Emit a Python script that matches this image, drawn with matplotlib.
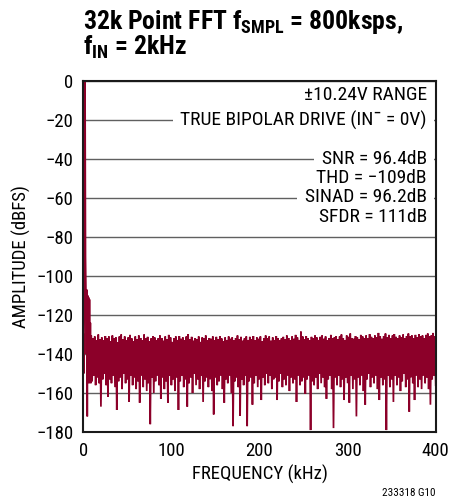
import numpy as np
import matplotlib
matplotlib.use("Agg")
import matplotlib.pyplot as plt
from matplotlib import font_manager as fm

_installed = {f.name for f in fm.fontManager.ttflist}
FONT = next((n for n in ['Roboto Condensed', 'Archivo Narrow', 'Barlow Semi Condensed',
                         'Liberation Sans'] if n in _installed), 'DejaVu Sans')
plt.rcParams['font.family'] = [FONT, 'DejaVu Sans']
plt.rcParams['mathtext.fontset'] = 'custom'
plt.rcParams['mathtext.rm'] = FONT
plt.rcParams['mathtext.bf'] = FONT + ':bold'
plt.rcParams['mathtext.it'] = FONT + ':italic'

# ---------------- data ----------------
title_line1 = r'32k Point FFT f$_\mathbf{SMPL}$ = 800ksps,'
title_line2 = r'f$_\mathbf{IN}$ = 2kHz'
x_label = 'FREQUENCY (kHz)'
y_label = 'AMPLITUDE (dBFS)'
x_ticks = [0, 100, 200, 300, 400]
y_ticks = [0, -20, -40, -60, -80, -100, -120, -140, -160, -180]
annotations = ['\u00b110.24V RANGE', 'TRUE BIPOLAR DRIVE (IN\u00af = 0V)',
               'SNR = 96.4dB', 'THD = \u2212109dB', 'SINAD = 96.2dB', 'SFDR = 111dB']
footnote = '233318 G10'

# fundamental and its skirt near DC (kHz, dBFS)
skirt_freq = [0, 0.5, 1, 1.5, 2, 2.5, 3, 3.5, 4, 4.5, 5, 5.5, 6, 6.5, 7, 7.5, 8, 8.5]
skirt_db = [-130, -150, -120, -90, 0, -90, -108, -140, -107, -172, -110, -150,
            -111, -155, -112, -150, -124, -155]

# noise floor: upper excursions at 9, 11, ..., 399 kHz
noise_top_db = [
    -130.5, -132, -131, -133, -130, -132.5, -131.5, -133, -130.8, -132,
    -131, -133.5, -130.5, -132, -131.5, -134, -131, -130, -132.5, -131,
    -133, -131.5, -130.2, -132, -133.5, -131, -132.5, -130.5, -131.8, -133,
    -130, -132, -131.2, -133.5, -132, -130.8, -131.5, -133, -132, -130.5,
    -131.8, -133.2, -131, -132.5, -130.2, -131.5, -133.8, -132, -131, -132.8,
    -130.8, -132.2, -131.5, -133, -131, -129.8, -132.5, -131.2, -133.2, -131.8,
    -132.5, -131, -133.8, -131.5, -132, -130.5, -133, -131.8, -132.2, -131,
    -133, -131.2, -132.5, -130.8, -132, -133.5, -131.5, -132.8, -131, -132.2,
    -131.5, -133, -131.8, -130.5, -132.5, -131.2, -133.2, -132, -131, -132.8,
    -131.2, -132.5, -130.8, -133, -131.5, -132.2, -131, -133.5, -131.8, -130.5,
    -132, -131, -133.2, -131.5, -132.8, -130.8, -131.8, -133, -132, -131.2,
    -132.5, -130.5, -131.8, -133, -131, -132.2, -130.2, -131.5, -132.8, -128.5,
    -131, -132.5, -130.8, -131.8, -133, -131.2, -132, -130.5, -131.5, -132.8,
    -131.2, -130.5, -132.2, -131, -133, -131.8, -130.2, -132, -131.5, -130.8,
    -132.5, -131, -130, -131.8, -132.8, -130.5, -131.2, -129.5, -131.8, -132.2,
    -130.8, -131.5, -132.5, -130.2, -131, -132, -130.5, -131.8, -129.8, -131.2,
    -132, -130.5, -131.5, -129.2, -131, -132.2, -130.8, -129.5, -131.5, -130.2,
    -131.8, -130.5, -129.8, -131.2, -132, -130.5, -131.5, -130, -131.8, -130.8,
    -129.5, -131, -130.5, -132, -130.2, -131.5, -129.8, -131, -130.5, -131.8,
    -130.2, -129.5, -131, -130.5, -129.2, -130.8,
]

# noise floor: lower excursions at 10, 12, ..., 400 kHz
noise_bottom_db = [
    -154, -151, -156, -152, -155, -167, -153, -150, -156, -162,
    -153, -155, -151, -157, -168.7, -154, -152, -158, -150, -155,
    -153, -164.6, -151, -156, -152, -158, -154, -165, -151, -157,
    -153, -159, -155, -176, -152, -160, -154, -151, -156, -163,
    -152, -158, -154, -165, -151, -156, -153, -159, -152, -168.7,
    -154, -151, -157, -153, -167, -155, -152, -160, -150, -156,
    -153, -158, -151, -164.6, -154, -152, -157, -153, -159, -171,
    -152, -156, -154, -151, -158, -165, -153, -155, -151, -160,
    -177, -154, -152, -157, -171.7, -153, -156, -151, -177, -154,
    -152, -166, -155, -151, -157, -153, -163.6, -152, -156, -150,
    -155, -151, -158, -153, -152, -163.6, -154, -150, -157, -153,
    -156, -151, -159, -152, -155, -153, -164.6, -151, -156, -154,
    -152, -160.5, -153, -151, -179, -154, -156, -152, -158, -150,
    -155, -152, -157, -163, -153, -151, -158, -178, -152, -156,
    -151, -157, -153, -163.6, -152, -155, -165, -151, -158, -153,
    -172, -152, -156, -151, -159, -166, -153, -150, -157, -152,
    -155, -151, -158, -163.6, -152, -156, -153, -179, -151, -157,
    -153, -164.6, -151, -156, -152, -159, -154, -150, -157, -153,
    -169.6, -152, -155, -163.6, -151, -157, -153, -158, -151, -155,
    -152, -158, -166, -153, -151, -156,
]

# ---------------- assemble spectrum ----------------
top_f = 9 + 2 * np.arange(len(noise_top_db))
bot_f = 10 + 2 * np.arange(len(noise_bottom_db))
nf = np.empty(len(top_f) + len(bot_f))
nv = np.empty_like(nf)
nf[0::2] = top_f
nf[1::2] = bot_f
nv[0::2] = noise_top_db
nv[1::2] = noise_bottom_db
freq = np.concatenate([skirt_freq, nf])
amp = np.concatenate([skirt_db, nv])

RED = '#8c0029'
GRID = '#606060'

fig = plt.figure(figsize=(4.49, 5.04), dpi=100)
ax = fig.add_axes([83.3 / 449, 72 / 504, 352.4 / 449, 351 / 504])

ax.set_xlim(0, 400)
ax.set_ylim(-180, 0)

for yv in y_ticks:
    ax.axhline(yv, color=GRID, lw=1.0, zorder=1)

ax.plot(freq, amp, color=RED, lw=1.25, zorder=2, solid_joinstyle='miter')

ax.set_xticks(x_ticks)
ax.set_yticks(y_ticks)
ax.tick_params(length=0, labelsize=13.5, colors='black')
ax.tick_params(axis='y', pad=7)
ax.tick_params(axis='x', pad=7)
for s in ax.spines.values():
    s.set_linewidth(1.5)
    s.set_color('#1a1a1a')
    s.set_zorder(4)

ax.set_xlabel(x_label, fontsize=13.5, labelpad=4)
ax.set_ylabel(y_label, fontsize=13.5, labelpad=4)

ann_y = [-7.2, -20, -40, -49.7, -59.5, -69.7]
on_grid = [False, True, True, False, True, False]
for txt, yv, boxed in zip(annotations, ann_y, on_grid):
    if boxed:
        ax.text(390, yv, txt, ha='right', va='center', fontsize=14, zorder=3,
                bbox=dict(facecolor='white', edgecolor='none', pad=5.5))
    else:
        ax.text(390, yv, txt, ha='right', va='center', fontsize=14, zorder=3.5)

fig.text(83 / 449, 1 - 29 / 504, title_line1, fontsize=18.5, fontweight='bold',
         ha='left', va='baseline')
fig.text(83 / 449, 1 - 55 / 504, title_line2, fontsize=18.5, fontweight='bold',
         ha='left', va='baseline')
fig.text(435 / 449, 1 - 493 / 504, footnote, fontsize=8, ha='right', va='center')

fig.savefig('out.png', dpi=100)
